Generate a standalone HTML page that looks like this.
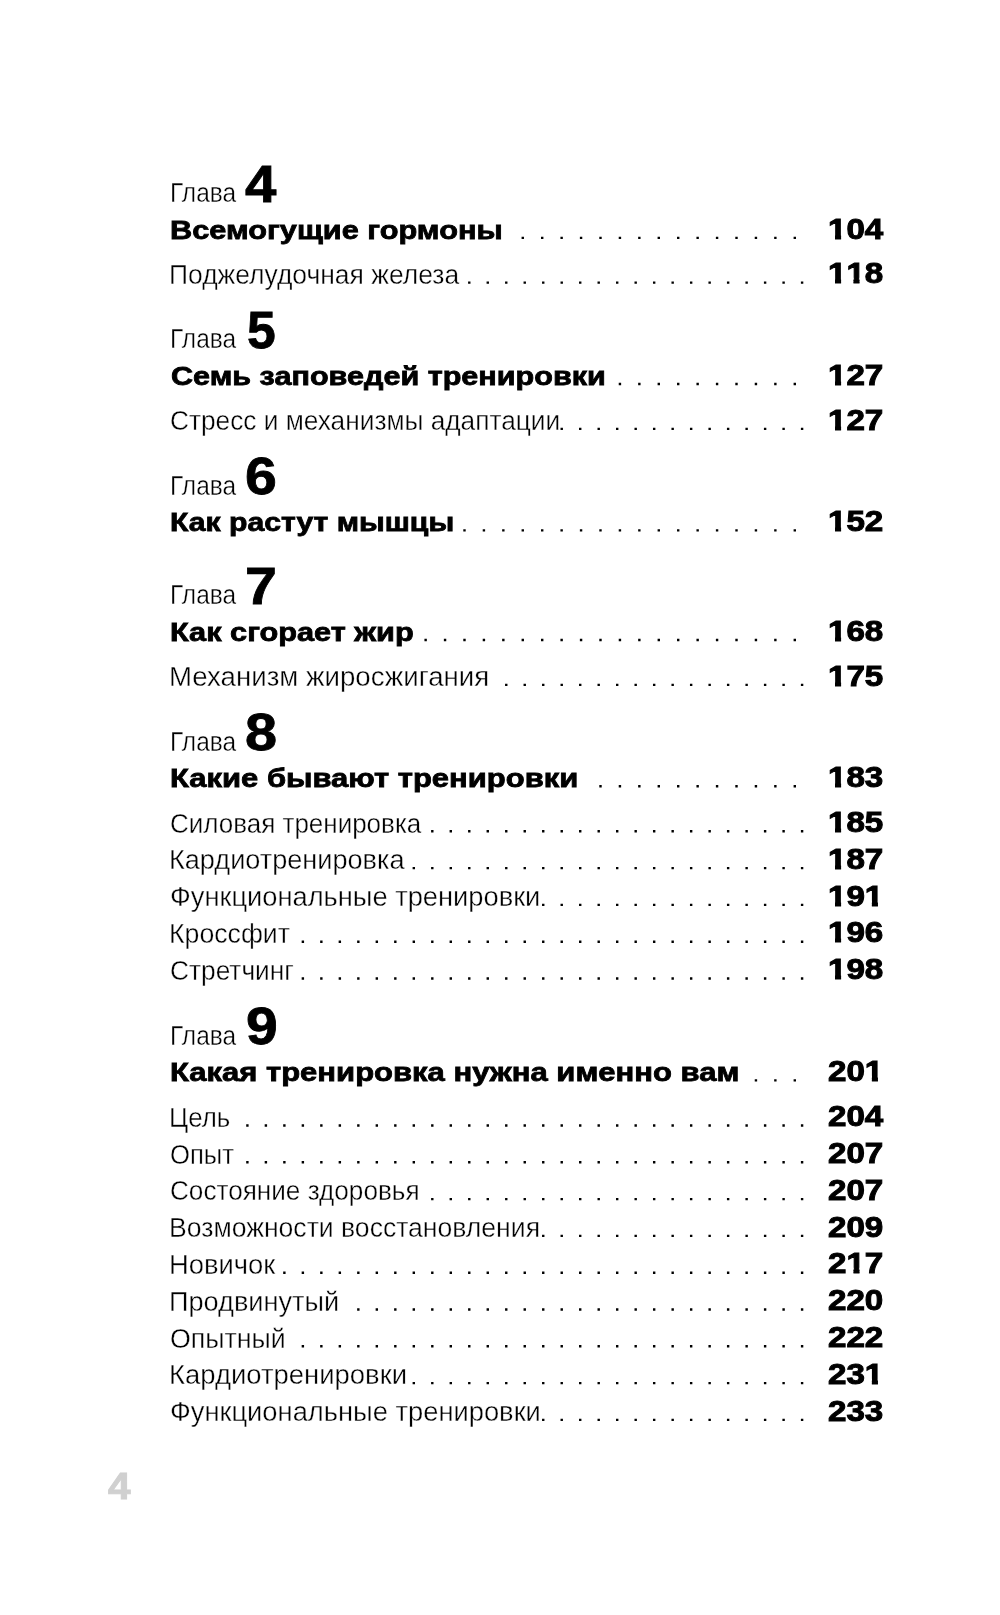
<!DOCTYPE html>
<html lang="ru">
<head>
<meta charset="utf-8">
<title>Оглавление</title>
<style>
html,body{margin:0;padding:0;background:#fff;}
body{width:1000px;height:1615px;position:relative;overflow:hidden;font-family:"Liberation Sans",sans-serif;color:#111;}
.x{position:absolute;white-space:nowrap;line-height:1;transform-origin:0 0;margin:0;padding:0;}
.g,.l{font-weight:400;color:#000;-webkit-text-stroke:0.35px #fff;}
.n{font-weight:700;color:#000;-webkit-text-stroke:1px #000;}
.b{font-weight:700;color:#000;-webkit-text-stroke:0.8px #000;}
.d{font-weight:700;color:#000;-webkit-text-stroke:0.8px #000;}
.pg{font-weight:700;color:#d0d0d0;-webkit-text-stroke:0.9px #d0d0d0;}
.o{display:inline-block;clip-path:polygon(0 0,100% 0,100% 64%,71% 64%,71% 100%,38% 100%,38% 64%,0 64%);}
svg{position:absolute;left:0;top:0;}
#page{position:absolute;left:0;top:0;width:1000px;height:1615px;will-change:transform;}
</style>
</head>
<body>
<div id="page">
<div id="g0" class="x g" style="left:170.20px;top:180px;font-size:27px;transform:scaleX(0.9060)">Глава</div>
<div id="d0" class="x d" style="left:244.54px;top:159px;font-size:51.6px;transform:scaleX(1.0937)">4</div>
<div id="t0" class="x b" style="left:169.87px;top:217px;font-size:26.3px;transform:scaleX(1.1682)">Всемогущие гормоны</div>
<div id="p0" class="x n" style="left:827.96px;top:215px;font-size:29.2px;transform:scaleX(1.1355)"><span class="o">1</span>04</div>
<div id="s0_0" class="x l" style="left:168.61px;top:262px;font-size:27px;transform:scaleX(0.9797)">Поджелудочная железа</div>
<div id="q0_0" class="x n" style="left:827.96px;top:259px;font-size:29.2px;transform:scaleX(1.1355)"><span class="o">1</span><span class="o">1</span>8</div>
<div id="g1" class="x g" style="left:170.20px;top:326px;font-size:27px;transform:scaleX(0.9060)">Глава</div>
<div id="d1" class="x d" style="left:246.98px;top:305px;font-size:51.6px;transform:scaleX(0.9998)">5</div>
<div id="t1" class="x b" style="left:170.93px;top:363px;font-size:26.3px;transform:scaleX(1.1629)">Семь заповедей тренировки</div>
<div id="p1" class="x n" style="left:827.96px;top:361px;font-size:29.2px;transform:scaleX(1.1355)"><span class="o">1</span>27</div>
<div id="s1_0" class="x l" style="left:169.58px;top:408px;font-size:27px;transform:scaleX(0.9725)">Стресс и механизмы адаптации</div>
<div id="q1_0" class="x n" style="left:827.96px;top:406px;font-size:29.2px;transform:scaleX(1.1355)"><span class="o">1</span>27</div>
<div id="g2" class="x g" style="left:170.20px;top:473px;font-size:27px;transform:scaleX(0.9060)">Глава</div>
<div id="d2" class="x d" style="left:245.26px;top:451px;font-size:51.6px;transform:scaleX(1.1090)">6</div>
<div id="t2" class="x b" style="left:169.95px;top:509px;font-size:26.3px;transform:scaleX(1.1462)">Как растут мышцы</div>
<div id="p2" class="x n" style="left:827.96px;top:507px;font-size:29.2px;transform:scaleX(1.1355)"><span class="o">1</span>52</div>
<div id="g3" class="x g" style="left:170.20px;top:582px;font-size:27px;transform:scaleX(0.9060)">Глава</div>
<div id="d3" class="x d" style="left:244.82px;top:561px;font-size:51.6px;transform:scaleX(1.1105)">7</div>
<div id="t3" class="x b" style="left:170.49px;top:619px;font-size:26.3px;transform:scaleX(1.1671)">Как сгорает жир</div>
<div id="p3" class="x n" style="left:827.96px;top:617px;font-size:29.2px;transform:scaleX(1.1355)"><span class="o">1</span>68</div>
<div id="s3_0" class="x l" style="left:169.40px;top:664px;font-size:27px;transform:scaleX(1.0236)">Механизм жиросжигания</div>
<div id="q3_0" class="x n" style="left:827.96px;top:662px;font-size:29.2px;transform:scaleX(1.1355)"><span class="o">1</span>75</div>
<div id="g4" class="x g" style="left:170.20px;top:729px;font-size:27px;transform:scaleX(0.9060)">Глава</div>
<div id="d4" class="x d" style="left:245.21px;top:707px;font-size:51.6px;transform:scaleX(1.1161)">8</div>
<div id="t4" class="x b" style="left:170.05px;top:765px;font-size:26.3px;transform:scaleX(1.1778)">Какие бывают тренировки</div>
<div id="p4" class="x n" style="left:827.96px;top:763px;font-size:29.2px;transform:scaleX(1.1355)"><span class="o">1</span>83</div>
<div id="s4_0" class="x l" style="left:169.89px;top:811px;font-size:27px;transform:scaleX(0.9627)">Силовая тренировка</div>
<div id="q4_0" class="x n" style="left:827.96px;top:808px;font-size:29.2px;transform:scaleX(1.1355)"><span class="o">1</span>85</div>
<div id="s4_1" class="x l" style="left:169.01px;top:847px;font-size:27px;transform:scaleX(1.0038)">Кардиотренировка</div>
<div id="q4_1" class="x n" style="left:827.96px;top:845px;font-size:29.2px;transform:scaleX(1.1355)"><span class="o">1</span>87</div>
<div id="s4_2" class="x l" style="left:170.11px;top:884px;font-size:27px;transform:scaleX(1.0103)">Функциональные тренировки</div>
<div id="q4_2" class="x n" style="left:827.96px;top:882px;font-size:29.2px;transform:scaleX(1.1355)"><span class="o">1</span>9<span class="o">1</span></div>
<div id="s4_3" class="x l" style="left:169.46px;top:921px;font-size:27px;transform:scaleX(0.9881)">Кроссфит</div>
<div id="q4_3" class="x n" style="left:827.96px;top:918px;font-size:29.2px;transform:scaleX(1.1355)"><span class="o">1</span>96</div>
<div id="s4_4" class="x l" style="left:169.70px;top:958px;font-size:27px;transform:scaleX(0.9733)">Стретчинг</div>
<div id="q4_4" class="x n" style="left:827.96px;top:955px;font-size:29.2px;transform:scaleX(1.1355)"><span class="o">1</span>98</div>
<div id="g5" class="x g" style="left:170.20px;top:1023px;font-size:27px;transform:scaleX(0.9060)">Глава</div>
<div id="d5" class="x d" style="left:245.66px;top:1001px;font-size:51.6px;transform:scaleX(1.1068)">9</div>
<div id="t5" class="x b" style="left:169.81px;top:1059px;font-size:26.3px;transform:scaleX(1.1789)">Какая тренировка нужна именно вам</div>
<div id="p5" class="x n" style="left:827.96px;top:1057px;font-size:29.2px;transform:scaleX(1.1355)">20<span class="o">1</span></div>
<div id="s5_0" class="x l" style="left:168.58px;top:1105px;font-size:27px;transform:scaleX(0.9579)">Цель</div>
<div id="q5_0" class="x n" style="left:827.96px;top:1102px;font-size:29.2px;transform:scaleX(1.1355)">204</div>
<div id="s5_1" class="x l" style="left:170.37px;top:1142px;font-size:27px;transform:scaleX(0.9506)">Опыт</div>
<div id="q5_1" class="x n" style="left:827.96px;top:1139px;font-size:29.2px;transform:scaleX(1.1355)">207</div>
<div id="s5_2" class="x l" style="left:169.59px;top:1178px;font-size:27px;transform:scaleX(0.9679)">Состояние здоровья</div>
<div id="q5_2" class="x n" style="left:827.96px;top:1176px;font-size:29.2px;transform:scaleX(1.1355)">207</div>
<div id="s5_3" class="x l" style="left:168.64px;top:1215px;font-size:27px;transform:scaleX(0.9842)">Возможности восстановления</div>
<div id="q5_3" class="x n" style="left:827.96px;top:1213px;font-size:29.2px;transform:scaleX(1.1355)">209</div>
<div id="s5_4" class="x l" style="left:169.08px;top:1252px;font-size:27px;transform:scaleX(1.0143)">Новичок</div>
<div id="q5_4" class="x n" style="left:827.96px;top:1249px;font-size:29.2px;transform:scaleX(1.1355)">2<span class="o">1</span>7</div>
<div id="s5_5" class="x l" style="left:168.73px;top:1289px;font-size:27px;transform:scaleX(1.0048)">Продвинутый</div>
<div id="q5_5" class="x n" style="left:827.96px;top:1286px;font-size:29.2px;transform:scaleX(1.1355)">220</div>
<div id="s5_6" class="x l" style="left:169.54px;top:1326px;font-size:27px;transform:scaleX(0.9913)">Опытный</div>
<div id="q5_6" class="x n" style="left:827.96px;top:1323px;font-size:29.2px;transform:scaleX(1.1355)">222</div>
<div id="s5_7" class="x l" style="left:168.66px;top:1362px;font-size:27px;transform:scaleX(1.0169)">Кардиотренировки</div>
<div id="q5_7" class="x n" style="left:827.96px;top:1360px;font-size:29.2px;transform:scaleX(1.1355)">23<span class="o">1</span></div>
<div id="s5_8" class="x l" style="left:170.10px;top:1399px;font-size:27px;transform:scaleX(1.0117)">Функциональные тренировки</div>
<div id="q5_8" class="x n" style="left:827.96px;top:1397px;font-size:29.2px;transform:scaleX(1.1355)">233</div>
<div id="pg" class="x pg" style="left:108.38px;top:1468px;font-size:37px;transform:scaleX(1.0944)">4</div>
<svg width="1000" height="1615" viewBox="0 0 1000 1615" fill="#000">
<path d="M521.58 236.70h2.4v2.4h-2.4zM541.01 236.70h2.4v2.4h-2.4zM560.44 236.70h2.4v2.4h-2.4zM579.87 236.70h2.4v2.4h-2.4zM599.30 236.70h2.4v2.4h-2.4zM618.73 236.70h2.4v2.4h-2.4zM638.16 236.70h2.4v2.4h-2.4zM657.59 236.70h2.4v2.4h-2.4zM677.02 236.70h2.4v2.4h-2.4zM696.45 236.70h2.4v2.4h-2.4zM715.88 236.70h2.4v2.4h-2.4zM735.31 236.70h2.4v2.4h-2.4zM754.74 236.70h2.4v2.4h-2.4zM774.17 236.70h2.4v2.4h-2.4zM793.60 236.70h2.4v2.4h-2.4z"/>
<path d="M468.08 281.40h2.4v2.4h-2.4zM486.57 281.40h2.4v2.4h-2.4zM505.06 281.40h2.4v2.4h-2.4zM523.55 281.40h2.4v2.4h-2.4zM542.04 281.40h2.4v2.4h-2.4zM560.53 281.40h2.4v2.4h-2.4zM579.02 281.40h2.4v2.4h-2.4zM597.51 281.40h2.4v2.4h-2.4zM616.00 281.40h2.4v2.4h-2.4zM634.49 281.40h2.4v2.4h-2.4zM652.98 281.40h2.4v2.4h-2.4zM671.47 281.40h2.4v2.4h-2.4zM689.96 281.40h2.4v2.4h-2.4zM708.45 281.40h2.4v2.4h-2.4zM726.94 281.40h2.4v2.4h-2.4zM745.43 281.40h2.4v2.4h-2.4zM763.92 281.40h2.4v2.4h-2.4zM782.41 281.40h2.4v2.4h-2.4zM800.90 281.40h2.4v2.4h-2.4z"/>
<path d="M618.73 382.80h2.4v2.4h-2.4zM638.16 382.80h2.4v2.4h-2.4zM657.59 382.80h2.4v2.4h-2.4zM677.02 382.80h2.4v2.4h-2.4zM696.45 382.80h2.4v2.4h-2.4zM715.88 382.80h2.4v2.4h-2.4zM735.31 382.80h2.4v2.4h-2.4zM754.74 382.80h2.4v2.4h-2.4zM774.17 382.80h2.4v2.4h-2.4zM793.60 382.80h2.4v2.4h-2.4z"/>
<path d="M560.53 427.70h2.4v2.4h-2.4zM579.02 427.70h2.4v2.4h-2.4zM597.51 427.70h2.4v2.4h-2.4zM616.00 427.70h2.4v2.4h-2.4zM634.49 427.70h2.4v2.4h-2.4zM652.98 427.70h2.4v2.4h-2.4zM671.47 427.70h2.4v2.4h-2.4zM689.96 427.70h2.4v2.4h-2.4zM708.45 427.70h2.4v2.4h-2.4zM726.94 427.70h2.4v2.4h-2.4zM745.43 427.70h2.4v2.4h-2.4zM763.92 427.70h2.4v2.4h-2.4zM782.41 427.70h2.4v2.4h-2.4zM800.90 427.70h2.4v2.4h-2.4z"/>
<path d="M463.29 529.20h2.4v2.4h-2.4zM482.72 529.20h2.4v2.4h-2.4zM502.15 529.20h2.4v2.4h-2.4zM521.58 529.20h2.4v2.4h-2.4zM541.01 529.20h2.4v2.4h-2.4zM560.44 529.20h2.4v2.4h-2.4zM579.87 529.20h2.4v2.4h-2.4zM599.30 529.20h2.4v2.4h-2.4zM618.73 529.20h2.4v2.4h-2.4zM638.16 529.20h2.4v2.4h-2.4zM657.59 529.20h2.4v2.4h-2.4zM677.02 529.20h2.4v2.4h-2.4zM696.45 529.20h2.4v2.4h-2.4zM715.88 529.20h2.4v2.4h-2.4zM735.31 529.20h2.4v2.4h-2.4zM754.74 529.20h2.4v2.4h-2.4zM774.17 529.20h2.4v2.4h-2.4zM793.60 529.20h2.4v2.4h-2.4z"/>
<path d="M424.43 638.80h2.4v2.4h-2.4zM443.86 638.80h2.4v2.4h-2.4zM463.29 638.80h2.4v2.4h-2.4zM482.72 638.80h2.4v2.4h-2.4zM502.15 638.80h2.4v2.4h-2.4zM521.58 638.80h2.4v2.4h-2.4zM541.01 638.80h2.4v2.4h-2.4zM560.44 638.80h2.4v2.4h-2.4zM579.87 638.80h2.4v2.4h-2.4zM599.30 638.80h2.4v2.4h-2.4zM618.73 638.80h2.4v2.4h-2.4zM638.16 638.80h2.4v2.4h-2.4zM657.59 638.80h2.4v2.4h-2.4zM677.02 638.80h2.4v2.4h-2.4zM696.45 638.80h2.4v2.4h-2.4zM715.88 638.80h2.4v2.4h-2.4zM735.31 638.80h2.4v2.4h-2.4zM754.74 638.80h2.4v2.4h-2.4zM774.17 638.80h2.4v2.4h-2.4zM793.60 638.80h2.4v2.4h-2.4z"/>
<path d="M505.06 683.70h2.4v2.4h-2.4zM523.55 683.70h2.4v2.4h-2.4zM542.04 683.70h2.4v2.4h-2.4zM560.53 683.70h2.4v2.4h-2.4zM579.02 683.70h2.4v2.4h-2.4zM597.51 683.70h2.4v2.4h-2.4zM616.00 683.70h2.4v2.4h-2.4zM634.49 683.70h2.4v2.4h-2.4zM652.98 683.70h2.4v2.4h-2.4zM671.47 683.70h2.4v2.4h-2.4zM689.96 683.70h2.4v2.4h-2.4zM708.45 683.70h2.4v2.4h-2.4zM726.94 683.70h2.4v2.4h-2.4zM745.43 683.70h2.4v2.4h-2.4zM763.92 683.70h2.4v2.4h-2.4zM782.41 683.70h2.4v2.4h-2.4zM800.90 683.70h2.4v2.4h-2.4z"/>
<path d="M599.30 785.10h2.4v2.4h-2.4zM618.73 785.10h2.4v2.4h-2.4zM638.16 785.10h2.4v2.4h-2.4zM657.59 785.10h2.4v2.4h-2.4zM677.02 785.10h2.4v2.4h-2.4zM696.45 785.10h2.4v2.4h-2.4zM715.88 785.10h2.4v2.4h-2.4zM735.31 785.10h2.4v2.4h-2.4zM754.74 785.10h2.4v2.4h-2.4zM774.17 785.10h2.4v2.4h-2.4zM793.60 785.10h2.4v2.4h-2.4z"/>
<path d="M431.10 830.10h2.4v2.4h-2.4zM449.59 830.10h2.4v2.4h-2.4zM468.08 830.10h2.4v2.4h-2.4zM486.57 830.10h2.4v2.4h-2.4zM505.06 830.10h2.4v2.4h-2.4zM523.55 830.10h2.4v2.4h-2.4zM542.04 830.10h2.4v2.4h-2.4zM560.53 830.10h2.4v2.4h-2.4zM579.02 830.10h2.4v2.4h-2.4zM597.51 830.10h2.4v2.4h-2.4zM616.00 830.10h2.4v2.4h-2.4zM634.49 830.10h2.4v2.4h-2.4zM652.98 830.10h2.4v2.4h-2.4zM671.47 830.10h2.4v2.4h-2.4zM689.96 830.10h2.4v2.4h-2.4zM708.45 830.10h2.4v2.4h-2.4zM726.94 830.10h2.4v2.4h-2.4zM745.43 830.10h2.4v2.4h-2.4zM763.92 830.10h2.4v2.4h-2.4zM782.41 830.10h2.4v2.4h-2.4zM800.90 830.10h2.4v2.4h-2.4z"/>
<path d="M412.61 866.90h2.4v2.4h-2.4zM431.10 866.90h2.4v2.4h-2.4zM449.59 866.90h2.4v2.4h-2.4zM468.08 866.90h2.4v2.4h-2.4zM486.57 866.90h2.4v2.4h-2.4zM505.06 866.90h2.4v2.4h-2.4zM523.55 866.90h2.4v2.4h-2.4zM542.04 866.90h2.4v2.4h-2.4zM560.53 866.90h2.4v2.4h-2.4zM579.02 866.90h2.4v2.4h-2.4zM597.51 866.90h2.4v2.4h-2.4zM616.00 866.90h2.4v2.4h-2.4zM634.49 866.90h2.4v2.4h-2.4zM652.98 866.90h2.4v2.4h-2.4zM671.47 866.90h2.4v2.4h-2.4zM689.96 866.90h2.4v2.4h-2.4zM708.45 866.90h2.4v2.4h-2.4zM726.94 866.90h2.4v2.4h-2.4zM745.43 866.90h2.4v2.4h-2.4zM763.92 866.90h2.4v2.4h-2.4zM782.41 866.90h2.4v2.4h-2.4zM800.90 866.90h2.4v2.4h-2.4z"/>
<path d="M542.04 903.70h2.4v2.4h-2.4zM560.53 903.70h2.4v2.4h-2.4zM579.02 903.70h2.4v2.4h-2.4zM597.51 903.70h2.4v2.4h-2.4zM616.00 903.70h2.4v2.4h-2.4zM634.49 903.70h2.4v2.4h-2.4zM652.98 903.70h2.4v2.4h-2.4zM671.47 903.70h2.4v2.4h-2.4zM689.96 903.70h2.4v2.4h-2.4zM708.45 903.70h2.4v2.4h-2.4zM726.94 903.70h2.4v2.4h-2.4zM745.43 903.70h2.4v2.4h-2.4zM763.92 903.70h2.4v2.4h-2.4zM782.41 903.70h2.4v2.4h-2.4zM800.90 903.70h2.4v2.4h-2.4z"/>
<path d="M301.67 940.50h2.4v2.4h-2.4zM320.16 940.50h2.4v2.4h-2.4zM338.65 940.50h2.4v2.4h-2.4zM357.14 940.50h2.4v2.4h-2.4zM375.63 940.50h2.4v2.4h-2.4zM394.12 940.50h2.4v2.4h-2.4zM412.61 940.50h2.4v2.4h-2.4zM431.10 940.50h2.4v2.4h-2.4zM449.59 940.50h2.4v2.4h-2.4zM468.08 940.50h2.4v2.4h-2.4zM486.57 940.50h2.4v2.4h-2.4zM505.06 940.50h2.4v2.4h-2.4zM523.55 940.50h2.4v2.4h-2.4zM542.04 940.50h2.4v2.4h-2.4zM560.53 940.50h2.4v2.4h-2.4zM579.02 940.50h2.4v2.4h-2.4zM597.51 940.50h2.4v2.4h-2.4zM616.00 940.50h2.4v2.4h-2.4zM634.49 940.50h2.4v2.4h-2.4zM652.98 940.50h2.4v2.4h-2.4zM671.47 940.50h2.4v2.4h-2.4zM689.96 940.50h2.4v2.4h-2.4zM708.45 940.50h2.4v2.4h-2.4zM726.94 940.50h2.4v2.4h-2.4zM745.43 940.50h2.4v2.4h-2.4zM763.92 940.50h2.4v2.4h-2.4zM782.41 940.50h2.4v2.4h-2.4zM800.90 940.50h2.4v2.4h-2.4z"/>
<path d="M301.67 977.30h2.4v2.4h-2.4zM320.16 977.30h2.4v2.4h-2.4zM338.65 977.30h2.4v2.4h-2.4zM357.14 977.30h2.4v2.4h-2.4zM375.63 977.30h2.4v2.4h-2.4zM394.12 977.30h2.4v2.4h-2.4zM412.61 977.30h2.4v2.4h-2.4zM431.10 977.30h2.4v2.4h-2.4zM449.59 977.30h2.4v2.4h-2.4zM468.08 977.30h2.4v2.4h-2.4zM486.57 977.30h2.4v2.4h-2.4zM505.06 977.30h2.4v2.4h-2.4zM523.55 977.30h2.4v2.4h-2.4zM542.04 977.30h2.4v2.4h-2.4zM560.53 977.30h2.4v2.4h-2.4zM579.02 977.30h2.4v2.4h-2.4zM597.51 977.30h2.4v2.4h-2.4zM616.00 977.30h2.4v2.4h-2.4zM634.49 977.30h2.4v2.4h-2.4zM652.98 977.30h2.4v2.4h-2.4zM671.47 977.30h2.4v2.4h-2.4zM689.96 977.30h2.4v2.4h-2.4zM708.45 977.30h2.4v2.4h-2.4zM726.94 977.30h2.4v2.4h-2.4zM745.43 977.30h2.4v2.4h-2.4zM763.92 977.30h2.4v2.4h-2.4zM782.41 977.30h2.4v2.4h-2.4zM800.90 977.30h2.4v2.4h-2.4z"/>
<path d="M754.74 1079.20h2.4v2.4h-2.4zM774.17 1079.20h2.4v2.4h-2.4zM793.60 1079.20h2.4v2.4h-2.4z"/>
<path d="M246.20 1124.30h2.4v2.4h-2.4zM264.69 1124.30h2.4v2.4h-2.4zM283.18 1124.30h2.4v2.4h-2.4zM301.67 1124.30h2.4v2.4h-2.4zM320.16 1124.30h2.4v2.4h-2.4zM338.65 1124.30h2.4v2.4h-2.4zM357.14 1124.30h2.4v2.4h-2.4zM375.63 1124.30h2.4v2.4h-2.4zM394.12 1124.30h2.4v2.4h-2.4zM412.61 1124.30h2.4v2.4h-2.4zM431.10 1124.30h2.4v2.4h-2.4zM449.59 1124.30h2.4v2.4h-2.4zM468.08 1124.30h2.4v2.4h-2.4zM486.57 1124.30h2.4v2.4h-2.4zM505.06 1124.30h2.4v2.4h-2.4zM523.55 1124.30h2.4v2.4h-2.4zM542.04 1124.30h2.4v2.4h-2.4zM560.53 1124.30h2.4v2.4h-2.4zM579.02 1124.30h2.4v2.4h-2.4zM597.51 1124.30h2.4v2.4h-2.4zM616.00 1124.30h2.4v2.4h-2.4zM634.49 1124.30h2.4v2.4h-2.4zM652.98 1124.30h2.4v2.4h-2.4zM671.47 1124.30h2.4v2.4h-2.4zM689.96 1124.30h2.4v2.4h-2.4zM708.45 1124.30h2.4v2.4h-2.4zM726.94 1124.30h2.4v2.4h-2.4zM745.43 1124.30h2.4v2.4h-2.4zM763.92 1124.30h2.4v2.4h-2.4zM782.41 1124.30h2.4v2.4h-2.4zM800.90 1124.30h2.4v2.4h-2.4z"/>
<path d="M246.20 1161.10h2.4v2.4h-2.4zM264.69 1161.10h2.4v2.4h-2.4zM283.18 1161.10h2.4v2.4h-2.4zM301.67 1161.10h2.4v2.4h-2.4zM320.16 1161.10h2.4v2.4h-2.4zM338.65 1161.10h2.4v2.4h-2.4zM357.14 1161.10h2.4v2.4h-2.4zM375.63 1161.10h2.4v2.4h-2.4zM394.12 1161.10h2.4v2.4h-2.4zM412.61 1161.10h2.4v2.4h-2.4zM431.10 1161.10h2.4v2.4h-2.4zM449.59 1161.10h2.4v2.4h-2.4zM468.08 1161.10h2.4v2.4h-2.4zM486.57 1161.10h2.4v2.4h-2.4zM505.06 1161.10h2.4v2.4h-2.4zM523.55 1161.10h2.4v2.4h-2.4zM542.04 1161.10h2.4v2.4h-2.4zM560.53 1161.10h2.4v2.4h-2.4zM579.02 1161.10h2.4v2.4h-2.4zM597.51 1161.10h2.4v2.4h-2.4zM616.00 1161.10h2.4v2.4h-2.4zM634.49 1161.10h2.4v2.4h-2.4zM652.98 1161.10h2.4v2.4h-2.4zM671.47 1161.10h2.4v2.4h-2.4zM689.96 1161.10h2.4v2.4h-2.4zM708.45 1161.10h2.4v2.4h-2.4zM726.94 1161.10h2.4v2.4h-2.4zM745.43 1161.10h2.4v2.4h-2.4zM763.92 1161.10h2.4v2.4h-2.4zM782.41 1161.10h2.4v2.4h-2.4zM800.90 1161.10h2.4v2.4h-2.4z"/>
<path d="M431.10 1197.90h2.4v2.4h-2.4zM449.59 1197.90h2.4v2.4h-2.4zM468.08 1197.90h2.4v2.4h-2.4zM486.57 1197.90h2.4v2.4h-2.4zM505.06 1197.90h2.4v2.4h-2.4zM523.55 1197.90h2.4v2.4h-2.4zM542.04 1197.90h2.4v2.4h-2.4zM560.53 1197.90h2.4v2.4h-2.4zM579.02 1197.90h2.4v2.4h-2.4zM597.51 1197.90h2.4v2.4h-2.4zM616.00 1197.90h2.4v2.4h-2.4zM634.49 1197.90h2.4v2.4h-2.4zM652.98 1197.90h2.4v2.4h-2.4zM671.47 1197.90h2.4v2.4h-2.4zM689.96 1197.90h2.4v2.4h-2.4zM708.45 1197.90h2.4v2.4h-2.4zM726.94 1197.90h2.4v2.4h-2.4zM745.43 1197.90h2.4v2.4h-2.4zM763.92 1197.90h2.4v2.4h-2.4zM782.41 1197.90h2.4v2.4h-2.4zM800.90 1197.90h2.4v2.4h-2.4z"/>
<path d="M542.04 1234.70h2.4v2.4h-2.4zM560.53 1234.70h2.4v2.4h-2.4zM579.02 1234.70h2.4v2.4h-2.4zM597.51 1234.70h2.4v2.4h-2.4zM616.00 1234.70h2.4v2.4h-2.4zM634.49 1234.70h2.4v2.4h-2.4zM652.98 1234.70h2.4v2.4h-2.4zM671.47 1234.70h2.4v2.4h-2.4zM689.96 1234.70h2.4v2.4h-2.4zM708.45 1234.70h2.4v2.4h-2.4zM726.94 1234.70h2.4v2.4h-2.4zM745.43 1234.70h2.4v2.4h-2.4zM763.92 1234.70h2.4v2.4h-2.4zM782.41 1234.70h2.4v2.4h-2.4zM800.90 1234.70h2.4v2.4h-2.4z"/>
<path d="M283.18 1271.50h2.4v2.4h-2.4zM301.67 1271.50h2.4v2.4h-2.4zM320.16 1271.50h2.4v2.4h-2.4zM338.65 1271.50h2.4v2.4h-2.4zM357.14 1271.50h2.4v2.4h-2.4zM375.63 1271.50h2.4v2.4h-2.4zM394.12 1271.50h2.4v2.4h-2.4zM412.61 1271.50h2.4v2.4h-2.4zM431.10 1271.50h2.4v2.4h-2.4zM449.59 1271.50h2.4v2.4h-2.4zM468.08 1271.50h2.4v2.4h-2.4zM486.57 1271.50h2.4v2.4h-2.4zM505.06 1271.50h2.4v2.4h-2.4zM523.55 1271.50h2.4v2.4h-2.4zM542.04 1271.50h2.4v2.4h-2.4zM560.53 1271.50h2.4v2.4h-2.4zM579.02 1271.50h2.4v2.4h-2.4zM597.51 1271.50h2.4v2.4h-2.4zM616.00 1271.50h2.4v2.4h-2.4zM634.49 1271.50h2.4v2.4h-2.4zM652.98 1271.50h2.4v2.4h-2.4zM671.47 1271.50h2.4v2.4h-2.4zM689.96 1271.50h2.4v2.4h-2.4zM708.45 1271.50h2.4v2.4h-2.4zM726.94 1271.50h2.4v2.4h-2.4zM745.43 1271.50h2.4v2.4h-2.4zM763.92 1271.50h2.4v2.4h-2.4zM782.41 1271.50h2.4v2.4h-2.4zM800.90 1271.50h2.4v2.4h-2.4z"/>
<path d="M357.14 1308.30h2.4v2.4h-2.4zM375.63 1308.30h2.4v2.4h-2.4zM394.12 1308.30h2.4v2.4h-2.4zM412.61 1308.30h2.4v2.4h-2.4zM431.10 1308.30h2.4v2.4h-2.4zM449.59 1308.30h2.4v2.4h-2.4zM468.08 1308.30h2.4v2.4h-2.4zM486.57 1308.30h2.4v2.4h-2.4zM505.06 1308.30h2.4v2.4h-2.4zM523.55 1308.30h2.4v2.4h-2.4zM542.04 1308.30h2.4v2.4h-2.4zM560.53 1308.30h2.4v2.4h-2.4zM579.02 1308.30h2.4v2.4h-2.4zM597.51 1308.30h2.4v2.4h-2.4zM616.00 1308.30h2.4v2.4h-2.4zM634.49 1308.30h2.4v2.4h-2.4zM652.98 1308.30h2.4v2.4h-2.4zM671.47 1308.30h2.4v2.4h-2.4zM689.96 1308.30h2.4v2.4h-2.4zM708.45 1308.30h2.4v2.4h-2.4zM726.94 1308.30h2.4v2.4h-2.4zM745.43 1308.30h2.4v2.4h-2.4zM763.92 1308.30h2.4v2.4h-2.4zM782.41 1308.30h2.4v2.4h-2.4zM800.90 1308.30h2.4v2.4h-2.4z"/>
<path d="M301.67 1345.10h2.4v2.4h-2.4zM320.16 1345.10h2.4v2.4h-2.4zM338.65 1345.10h2.4v2.4h-2.4zM357.14 1345.10h2.4v2.4h-2.4zM375.63 1345.10h2.4v2.4h-2.4zM394.12 1345.10h2.4v2.4h-2.4zM412.61 1345.10h2.4v2.4h-2.4zM431.10 1345.10h2.4v2.4h-2.4zM449.59 1345.10h2.4v2.4h-2.4zM468.08 1345.10h2.4v2.4h-2.4zM486.57 1345.10h2.4v2.4h-2.4zM505.06 1345.10h2.4v2.4h-2.4zM523.55 1345.10h2.4v2.4h-2.4zM542.04 1345.10h2.4v2.4h-2.4zM560.53 1345.10h2.4v2.4h-2.4zM579.02 1345.10h2.4v2.4h-2.4zM597.51 1345.10h2.4v2.4h-2.4zM616.00 1345.10h2.4v2.4h-2.4zM634.49 1345.10h2.4v2.4h-2.4zM652.98 1345.10h2.4v2.4h-2.4zM671.47 1345.10h2.4v2.4h-2.4zM689.96 1345.10h2.4v2.4h-2.4zM708.45 1345.10h2.4v2.4h-2.4zM726.94 1345.10h2.4v2.4h-2.4zM745.43 1345.10h2.4v2.4h-2.4zM763.92 1345.10h2.4v2.4h-2.4zM782.41 1345.10h2.4v2.4h-2.4zM800.90 1345.10h2.4v2.4h-2.4z"/>
<path d="M412.61 1381.90h2.4v2.4h-2.4zM431.10 1381.90h2.4v2.4h-2.4zM449.59 1381.90h2.4v2.4h-2.4zM468.08 1381.90h2.4v2.4h-2.4zM486.57 1381.90h2.4v2.4h-2.4zM505.06 1381.90h2.4v2.4h-2.4zM523.55 1381.90h2.4v2.4h-2.4zM542.04 1381.90h2.4v2.4h-2.4zM560.53 1381.90h2.4v2.4h-2.4zM579.02 1381.90h2.4v2.4h-2.4zM597.51 1381.90h2.4v2.4h-2.4zM616.00 1381.90h2.4v2.4h-2.4zM634.49 1381.90h2.4v2.4h-2.4zM652.98 1381.90h2.4v2.4h-2.4zM671.47 1381.90h2.4v2.4h-2.4zM689.96 1381.90h2.4v2.4h-2.4zM708.45 1381.90h2.4v2.4h-2.4zM726.94 1381.90h2.4v2.4h-2.4zM745.43 1381.90h2.4v2.4h-2.4zM763.92 1381.90h2.4v2.4h-2.4zM782.41 1381.90h2.4v2.4h-2.4zM800.90 1381.90h2.4v2.4h-2.4z"/>
<path d="M542.04 1418.70h2.4v2.4h-2.4zM560.53 1418.70h2.4v2.4h-2.4zM579.02 1418.70h2.4v2.4h-2.4zM597.51 1418.70h2.4v2.4h-2.4zM616.00 1418.70h2.4v2.4h-2.4zM634.49 1418.70h2.4v2.4h-2.4zM652.98 1418.70h2.4v2.4h-2.4zM671.47 1418.70h2.4v2.4h-2.4zM689.96 1418.70h2.4v2.4h-2.4zM708.45 1418.70h2.4v2.4h-2.4zM726.94 1418.70h2.4v2.4h-2.4zM745.43 1418.70h2.4v2.4h-2.4zM763.92 1418.70h2.4v2.4h-2.4zM782.41 1418.70h2.4v2.4h-2.4zM800.90 1418.70h2.4v2.4h-2.4z"/>
</svg>
</div>
</body>
</html>
